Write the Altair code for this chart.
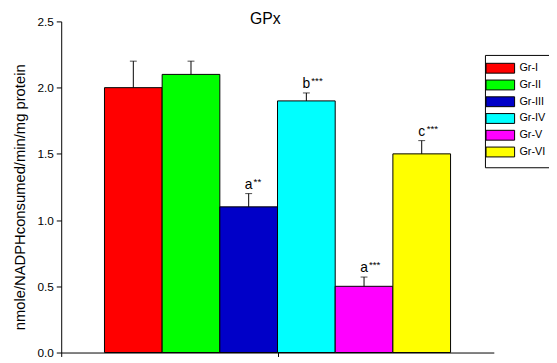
import altair as alt
import pandas as pd

groups = ["Gr-I", "Gr-II", "Gr-III", "Gr-IV", "Gr-V", "Gr-VI"]
values = [2.0, 2.1, 1.1, 1.9, 0.5, 1.5]
errors = [0.2, 0.1, 0.1, 0.06, 0.07, 0.1]
letters = ["", "", "a", "b", "a", "c"]
stars = ["", "", "**", "***", "***", "***"]
colors = ["#FF0000", "#00FF00", "#0000C8", "#00FFFF", "#FF00FF", "#FFFF00"]

FONT = "Liberation Sans"

df = pd.DataFrame({
    "group": groups,
    "value": values,
    "err": errors,
    "letter": letters,
    "stars": stars,
})
df["idx"] = range(len(df))
df["start"] = df["idx"]
df["end"] = df["idx"] + 1
df["center"] = df["idx"] + 0.5
df["top"] = df["value"] + df["err"]

xscale = alt.Scale(domain=[-0.75, 6.75], nice=False, zero=False, padding=0)
yscale = alt.Scale(domain=[0, 2.5], nice=False, padding=0)

base = alt.Chart(df)

bars = base.mark_bar(stroke="black", strokeWidth=1, opacity=1).encode(
    x=alt.X("start:Q", scale=xscale,
            axis=alt.Axis(values=[-0.75, 3], labels=False, title=None, grid=False,
                          tickSize=4, tickColor="black", domainColor="black")),
    x2="end:Q",
    y=alt.Y("value:Q", scale=yscale,
            axis=alt.Axis(values=[0, 0.25, 0.5, 0.75, 1.0, 1.25, 1.5, 1.75, 2.0, 2.25, 2.5],
                          labelExpr="(round(datum.value*100) % 50 == 0) ? format(datum.value, '.1f') : ''",
                          grid=False, tickSize=5, tickColor="black", domainColor="black",
                          labelFont=FONT, labelFontSize=12, labelColor="black", labelPadding=3,
                          title="nmole/NADPHconsumed/min/mg protein",
                          titleFont=FONT, titleFontSize=15, titleFontWeight="normal",
                          titleColor="black", titleX=-37, titleY=178, titleAngle=-90,
                          titleAlign="center", titleBaseline="alphabetic")),
    y2=alt.datum(0),
    color=alt.Color("group:N", scale=alt.Scale(domain=groups, range=colors),
                    legend=alt.Legend(orient="none", legendX=430, legendY=34, title=None,
                                      symbolType="M-2.48,-1H3.32V1H-2.48Z", symbolSize=100,
                                      symbolStrokeColor="black", symbolStrokeWidth=1,
                                      symbolOpacity=1,
                                      labelFont=FONT, labelFontSize=11, labelColor="black",
                                      labelOffset=16, padding=8, rowPadding=2,
                                      strokeColor="black", fillColor="white")),
)

rules = base.mark_rule(color="black", strokeWidth=1).encode(
    x="center:Q", y="value:Q", y2="top:Q"
)

caps = base.mark_tick(color="black", orient="horizontal", size=7, thickness=1).encode(
    x="center:Q", y="top:Q"
)

letter_text = base.mark_text(font=FONT, fontSize=14, color="black", align="center",
                             baseline="alphabetic", dy=-5).encode(
    x="center:Q", y="top:Q", text="letter:N"
)

star_text = base.mark_text(font=FONT, fontSize=10, color="black", align="left",
                           baseline="alphabetic", dx=5, dy=-9).encode(
    x="center:Q", y="top:Q", text="stars:N"
)

title = alt.Chart(pd.DataFrame({"t": ["GPx"]})).mark_text(
    font=FONT, fontSize=16, color="black", align="center", baseline="alphabetic"
).encode(x=alt.value(207), y=alt.value(3), text="t:N")

chart = alt.layer(bars, rules, caps, letter_text, star_text, title).properties(
    width=439, height=336,
    autosize="none",
    padding={"left": 54, "top": 11, "right": 56, "bottom": 8},
).configure_view(stroke=None).configure_axis(domainWidth=1, tickWidth=1)

chart.save("out.html", embed_options={"renderer": "svg", "actions": False})
